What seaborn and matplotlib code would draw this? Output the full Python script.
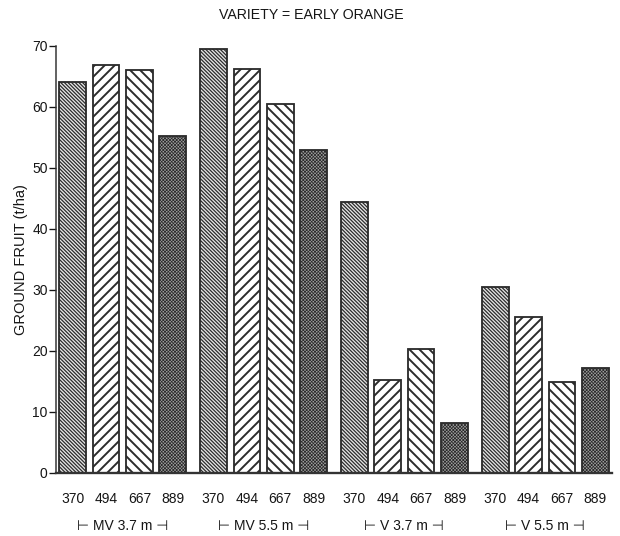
import numpy as np
import pandas as pd
import matplotlib
matplotlib.use("Agg")
import matplotlib.pyplot as plt
import matplotlib.transforms as mtransforms
import seaborn as sns

# Ground fruit yield (t/ha) by tree spacing and planting rate
spacings = ["MV 3.7 m", "MV 5.5 m", "V 3.7 m", "V 5.5 m"]
rates = ["370", "494", "667", "889"]
fruit_370 = [64.0, 69.4, 44.4, 30.5]
fruit_494 = [66.9, 66.1, 15.2, 25.5]
fruit_667 = [66.0, 60.5, 20.2, 14.9]
fruit_889 = [55.2, 52.9, 8.2, 17.1]
y_ticks = [0, 10, 20, 30, 40, 50, 60, 70]
title_text = "VARIETY = EARLY ORANGE"
y_label = "GROUND FRUIT (t/ha)"

df = pd.DataFrame({
    "spacing": spacings * 4,
    "rate": np.repeat(rates, len(spacings)),
    "fruit": fruit_370 + fruit_494 + fruit_667 + fruit_889,
})

sns.set_style("ticks")
plt.rcParams["font.family"] = ["Liberation Sans", "DejaVu Sans"]
plt.rcParams["text.color"] = "#151515"
plt.rcParams["axes.labelcolor"] = "#151515"
plt.rcParams["ytick.color"] = "#151515"

DPI = 120
W, H = 620, 536
FS = 8.3
fig = plt.figure(figsize=(W / DPI, H / DPI), dpi=DPI, facecolor="white")
ax = fig.add_axes([56 / W, (H - 472.5) / H, 556 / W, 426.8 / H])
ax.set_facecolor("white")

sns.barplot(
    data=df, x="spacing", y="fruit", hue="rate",
    order=spacings, hue_order=rates,
    palette={r: "white" for r in rates}, saturation=1,
    width=0.948, gap=0.2, errorbar=None,
    edgecolor="#2b2b2b", linewidth=1.1, legend=False, ax=ax,
)

# fill pattern for each planting rate
styles = {
    "370": dict(hatch="\\" * 11, hlw=0.75, face="#e6e6e6"),
    "494": dict(hatch="/" * 4, hlw=1.15, face="white"),
    "667": dict(hatch="\\" * 4, hlw=1.15, face="white"),
    "889": dict(hatch="x" * 12, hlw=0.45, face="#a0a0a0"),
}
for container, rate in zip(ax.containers, rates):
    st = styles[rate]
    for bar in container:
        bar.set_facecolor(st["face"])
        bar.set_hatch(st["hatch"])
        if hasattr(bar, "set_hatch_linewidth"):
            bar.set_hatch_linewidth(st["hlw"])

ax.set_xlim(-0.474, 3.474)
ax.set_ylim(0, 70)
ax.set_yticks(y_ticks)
ax.set_xticks([])
ax.set_xlabel("")
ax.set_ylabel(y_label, fontsize=FS + 0.5)
ax.yaxis.set_label_coords((28 - 56) / 556, 0.5)
ax.tick_params(axis="y", length=4, width=0.8, pad=1, labelsize=FS)

sns.despine(ax=ax)
ax.spines["left"].set_linewidth(0.9)
ax.spines["bottom"].set_linewidth(1.4)
ax.spines["left"].set_color("#333333")
ax.spines["bottom"].set_color("#333333")

trans = mtransforms.blended_transform_factory(ax.transData, ax.transAxes)
for container, rate in zip(ax.containers, rates):
    for bar in container:
        xc = bar.get_x() + bar.get_width() / 2
        ax.text(xc, -0.062, rate, transform=trans, ha="center", va="center",
                fontsize=FS)

for i, name in enumerate(spacings):
    ax.text(i, -0.125, f"\u22a2 {name} \u22a3", transform=trans,
            ha="center", va="center", fontsize=FS)

fig.text(311 / W, 1 - 15 / H, title_text, ha="center", va="center",
         fontsize=FS + 0.2)

fig.savefig("out.png", dpi=DPI, facecolor="white")
